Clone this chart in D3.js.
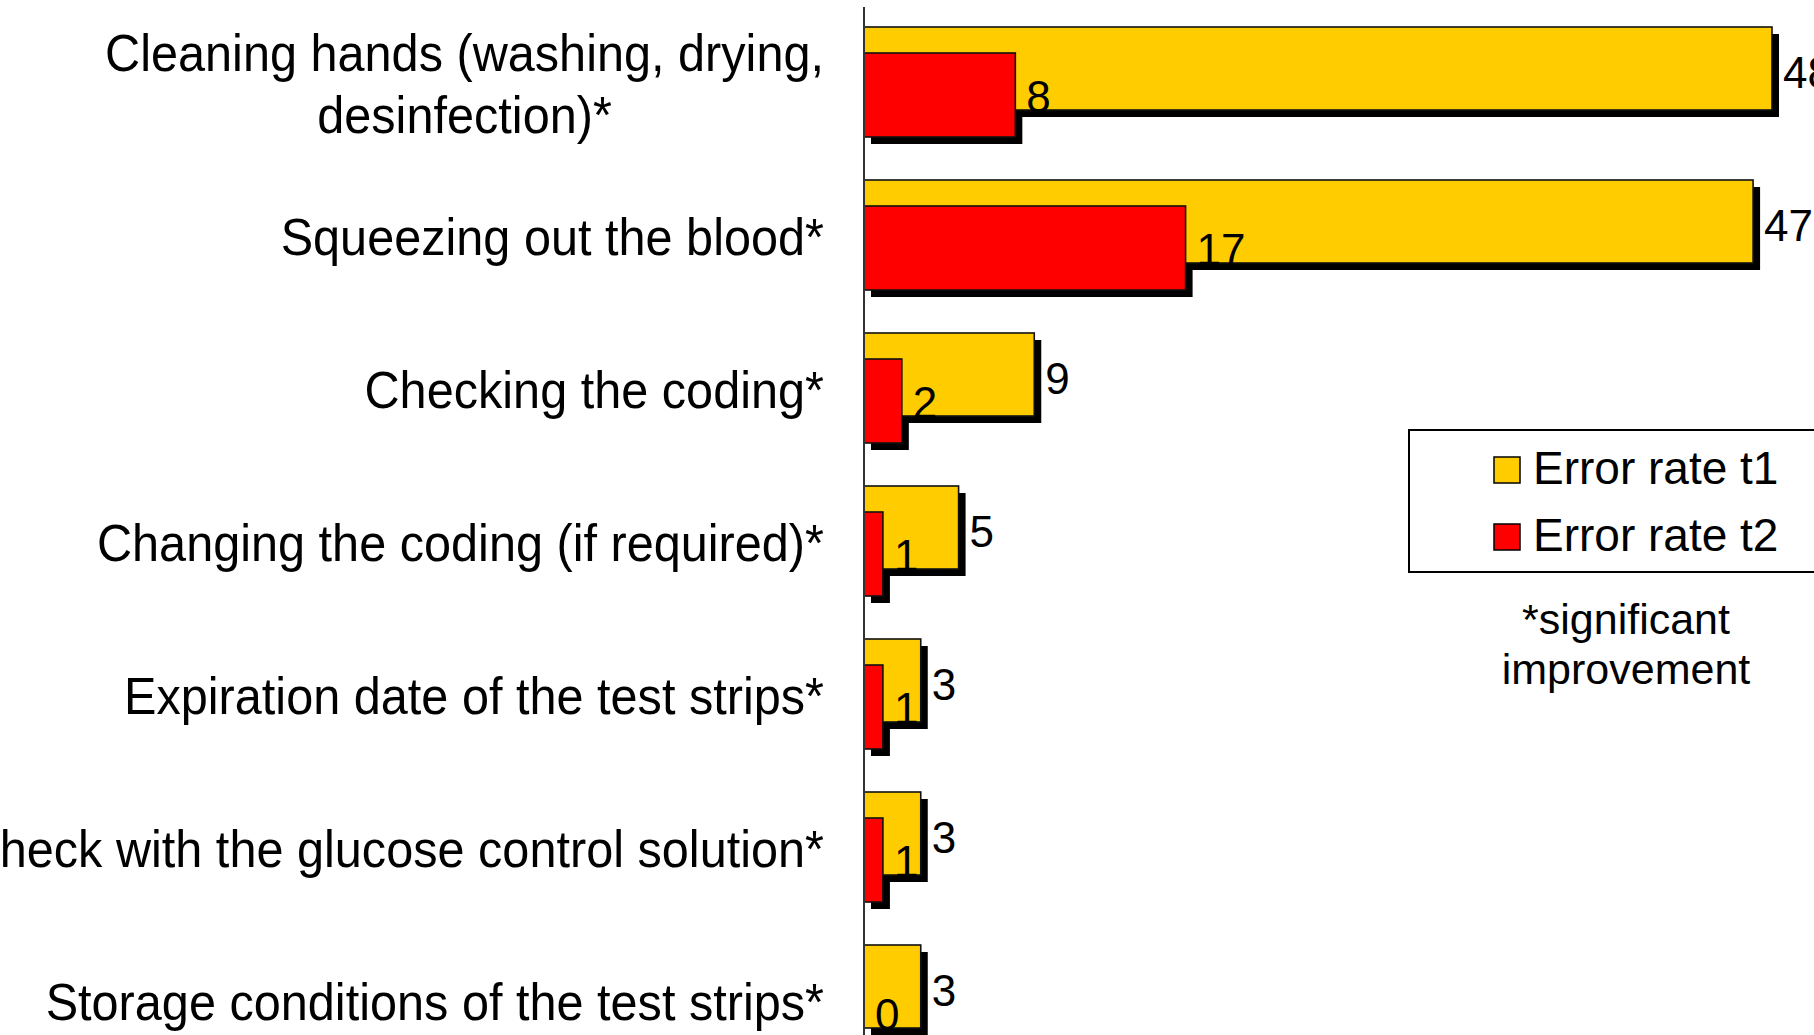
<!DOCTYPE html>
<html>
<head>
<meta charset="utf-8">
<script src="https://cdn.jsdelivr.net/npm/d3@7"></script>
<style>
  html, body { margin: 0; padding: 0; background: #fff; overflow: hidden; }
  svg { display: block; }
  text { font-family: "Liberation Sans", Arial, sans-serif; fill: #000; }
</style>
</head>
<body>
<svg id="chart" width="1814" height="1035"></svg>
<script>
const categories = [
  "Cleaning hands (washing, drying,|desinfection)*",
  "Squeezing out the blood*",
  "Checking the coding*",
  "Changing the coding (if required)*",
  "Expiration date of the test strips*",
  "Check with the glucose control solution*",
  "Storage conditions of the test strips*"
];
const errorT1 = [48, 47, 9, 5, 3, 3, 3];
const errorT2 = [8, 17, 2, 1, 1, 1, 0];
const seriesNames = ["Error rate t1", "Error rate t2"];
const seriesColors = ["#FFCC00", "#FF0000"];
const footnoteLines = ["*significant", "improvement"];

const svg = d3.select("#chart");

const x0 = 864;
const x = d3.scaleLinear().domain([0, 48]).range([x0, 1772]);
const step = 153, groupH = 110;
const y = d3.scaleBand()
  .domain(categories)
  .range([27 - (step - groupH) / 2, 27 - (step - groupH) / 2 + step * categories.length])
  .paddingInner((step - groupH) / step)
  .paddingOuter(((step - groupH) / step) / 2);

const bw = y.bandwidth();
const yH = bw * 83 / 110;           // yellow bar height
const rOff = bw * 26 / 110;         // red bar offset
const rH = bw * 84 / 110;           // red bar height
const sh = 7;                       // shadow offset

const data = categories.map((c, i) => ({ c, t1: errorT1[i], t2: errorT2[i] }));

// shadows
const gS = svg.append("g");
gS.selectAll(".s1").data(data).join("rect")
  .attr("x", x0 + sh).attr("y", d => y(d.c) + sh)
  .attr("width", d => Math.max(0, x(d.t1) - x0)).attr("height", yH)
  .attr("fill", "#000");
gS.selectAll(".s2").data(data.filter(d => d.t2 > 0)).join("rect")
  .attr("x", x0 + sh).attr("y", d => y(d.c) + rOff + sh)
  .attr("width", d => x(d.t2) - x0).attr("height", rH)
  .attr("fill", "#000");

// yellow bars
svg.append("g").selectAll("rect").data(data).join("rect")
  .attr("x", x0).attr("y", d => y(d.c))
  .attr("width", d => x(d.t1) - x0).attr("height", yH)
  .attr("fill", seriesColors[0]).attr("stroke", "#111").attr("stroke-width", 1.6);

// red bars
svg.append("g").selectAll("rect").data(data.filter(d => d.t2 > 0)).join("rect")
  .attr("x", x0).attr("y", d => y(d.c) + rOff)
  .attr("width", d => x(d.t2) - x0).attr("height", rH)
  .attr("fill", seriesColors[1]).attr("stroke", "#111").attr("stroke-width", 1.6);

// value labels
svg.append("g").selectAll("text").data(data).join("text")
  .attr("x", d => x(d.t1) + 11).attr("y", d => y(d.c) + yH / 2 + 3 + 16)
  .attr("font-size", 44).text(d => d.t1);
svg.append("g").selectAll("text").data(data).join("text")
  .attr("x", d => x(d.t2) + 11).attr("y", d => y(d.c) + rOff + rH / 2 + 17)
  .attr("font-size", 44).text(d => d.t2);

// axis line
svg.append("line").attr("x1", x0).attr("x2", x0).attr("y1", 7).attr("y2", 1035)
  .attr("stroke", "#333").attr("stroke-width", 2);

// category labels (condensed)
const squeeze = 0.935;
const labelRight = 824;
const gL = svg.append("g");
data.forEach(d => {
  const lines = d.c.split("|");
  const cy = y(d.c) + bw / 2;
  if (lines.length === 1) {
    const t = gL.append("text").attr("x", labelRight).attr("y", cy + 20)
      .attr("text-anchor", "end").attr("font-size", 52).text(lines[0]);
    const w = t.node().getComputedTextLength();
    t.attr("textLength", w * squeeze).attr("lengthAdjust", "spacingAndGlyphs");
  } else {
    const t1 = gL.append("text").attr("x", labelRight).attr("y", cy - 31 + 20)
      .attr("text-anchor", "end").attr("font-size", 52).text(lines[0]);
    const w1 = t1.node().getComputedTextLength() * squeeze;
    t1.attr("textLength", w1).attr("lengthAdjust", "spacingAndGlyphs");
    const t2 = gL.append("text").attr("x", labelRight - w1 / 2).attr("y", cy + 31 + 20)
      .attr("text-anchor", "middle").attr("font-size", 52).text(lines[1]);
    const w2 = t2.node().getComputedTextLength();
    t2.attr("textLength", w2 * squeeze).attr("lengthAdjust", "spacingAndGlyphs");
  }
});

// legend
const lg = svg.append("g");
lg.append("rect").attr("x", 1409).attr("y", 430).attr("width", 440).attr("height", 142)
  .attr("fill", "#fff").attr("stroke", "#000").attr("stroke-width", 2);
seriesNames.forEach((n, i) => {
  lg.append("rect").attr("x", 1494).attr("y", 457 + i * 67).attr("width", 26).attr("height", 26)
    .attr("fill", seriesColors[i]).attr("stroke", "#000").attr("stroke-width", 1.5);
  lg.append("text").attr("x", 1533).attr("y", 484 + i * 67).attr("font-size", 46).text(n);
});

// footnote
svg.append("g").selectAll("text").data(footnoteLines).join("text")
  .attr("x", 1626).attr("y", (d, i) => 634 + i * 50)
  .attr("text-anchor", "middle").attr("font-size", 43).text(d => d);
</script>
</body>
</html>
